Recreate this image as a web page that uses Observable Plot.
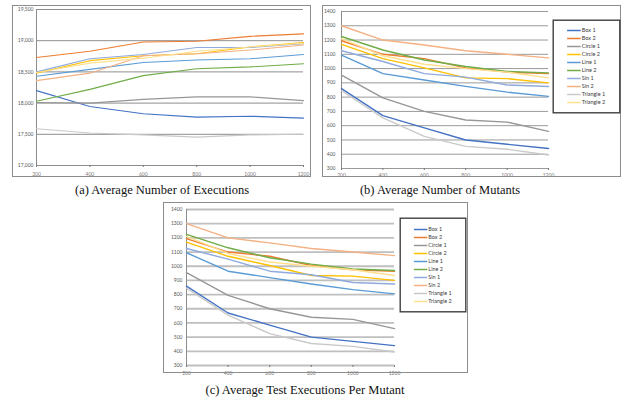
<!DOCTYPE html>
<html><head><meta charset="utf-8">
<script src="https://cdn.jsdelivr.net/npm/d3@7"></script>
<script src="https://cdn.jsdelivr.net/npm/@observablehq/plot@0.6"></script>
<style>
html,body{margin:0;padding:0;background:#fff}
body{width:624px;height:404px;position:relative;overflow:hidden}
.frame{position:absolute;border:1px solid #8c8c8c;box-sizing:border-box;pointer-events:none}
.cap{position:absolute;font-family:"Liberation Serif","DejaVu Serif",serif;font-size:12.5px;line-height:14px;color:#111;white-space:nowrap;transform:translateX(-50%)}
</style></head><body>
<script>
const xValues = [200, 400, 600, 800, 1000, 1200];
const seriesNames = ["Box 1", "Box 2", "Circle 1", "Circle 2", "Line 1", "Line 2", "Sin 1", "Sin 2", "Triangle 1", "Triangle 2"];
const seriesColors = ["#4472C4", "#ED7D31", "#979797", "#FFC000", "#5B9BD5", "#70AD47", "#8FAADC", "#F4B183", "#C9C9C9", "#FFE08F"];

// (a) Average Number of Executions
const execBox1      = [18200, 17945, 17830, 17775, 17790, 17760];
const execBox2      = [18730, 18830, 18980, 18990, 19070, 19110];
const execCircle1   = [18010, 18000, 18060, 18100, 18100, 18040];
const execCircle2   = [18480, 18680, 18760, 18790, 18900, 18970];
const execLine1     = [18430, 18540, 18650, 18690, 18710, 18780];
const execLine2     = [18030, 18220, 18440, 18550, 18580, 18630];
const execSin1      = [18500, 18710, 18780, 18890, 18890, 18950];
const execSin2      = [18360, 18480, 18760, 18790, 18850, 18930];
const execTriangle1 = [17590, 17520, 17490, 17455, 17490, 17500];
const execTriangle2 = [18490, 18640, 18720, 18830, 18900, 18960];
const execTicks = [17000, 17500, 18000, 18500, 19000, 19500];

// (b) Average Number of Mutants
const mutBox1      = [860, 670, 585, 500, 470, 440];
const mutBox2      = [1195, 1100, 1070, 1005, 975, 965];
const mutCircle1   = [955, 795, 700, 640, 625, 560];
const mutCircle2   = [1170, 1070, 1005, 935, 930, 900];
const mutLine1     = [1095, 965, 920, 875, 835, 805];
const mutLine2     = [1225, 1130, 1060, 1015, 980, 970];
const mutSin1      = [1125, 1050, 965, 940, 885, 875];
const mutSin2      = [1300, 1200, 1165, 1125, 1100, 1075];
const mutTriangle1 = [845, 655, 525, 455, 435, 395];
const mutTriangle2 = [1210, 1090, 1030, 1000, 975, 935];
const mutTicks = [300, 400, 500, 600, 700, 800, 900, 1000, 1100, 1200, 1300, 1400];

// (c) Average Test Executions Per Mutant
const perBox1      = [860, 670, 585, 500, 470, 440];
const perBox2      = [1195, 1100, 1070, 1005, 975, 965];
const perCircle1   = [955, 795, 700, 640, 625, 560];
const perCircle2   = [1170, 1070, 1005, 935, 930, 900];
const perLine1     = [1095, 965, 920, 875, 835, 805];
const perLine2     = [1225, 1130, 1060, 1015, 980, 970];
const perSin1      = [1125, 1050, 965, 940, 885, 875];
const perSin2      = [1300, 1200, 1165, 1125, 1100, 1075];
const perTriangle1 = [845, 655, 525, 455, 435, 395];
const perTriangle2 = [1210, 1090, 1030, 1000, 975, 935];
const perTicks = [300, 400, 500, 600, 700, 800, 900, 1000, 1100, 1200, 1300, 1400];

const captions = ["(a) Average Number of Executions", "(b) Average Number of Mutants", "(c) Average Test Executions Per Mutant"];

function tidy(rows) {
  return rows.flatMap((vals, i) => vals.map((v, j) => ({series: seriesNames[i], x: xValues[j], y: v})));
}

const FONT = "Lato, 'Liberation Sans', sans-serif";

function lineChart(o) {
  const data = tidy(o.rows);
  return Plot.plot({
    width: o.w, height: o.h,
    marginLeft: o.ml, marginRight: o.mr, marginTop: o.mt, marginBottom: o.mb,
    style: {background: "transparent", fontFamily: FONT, overflow: "visible"},
    x: {domain: [200, 1200], axis: null, label: null},
    y: {domain: [o.ticks[0], o.ticks[o.ticks.length - 1]], axis: null, label: null},
    color: {domain: seriesNames, range: seriesColors},
    marks: [
      Plot.ruleY(o.ticks, {stroke: o.grid, strokeWidth: o.gridW}),
      Plot.ruleX([200], {stroke: "#8c8c8c", strokeWidth: 1}),
      Plot.axisY({ticks: o.ticks, tickSize: 0, tickPadding: o.ypad, tickFormat: o.fmt, fontSize: 5, color: "#595959", label: null}),
      Plot.axisX({ticks: xValues, tickSize: 2, tickPadding: o.xpad, tickFormat: d => String(d), fontSize: 5, color: "#7a7a7a", label: null}),
      Plot.line(data, {x: "x", y: "y", z: "series", stroke: "series", strokeWidth: o.lw})
    ]
  });
}

function legendChart(w, h) {
  return Plot.plot({
    width: w, height: h, margin: 0,
    style: {background: "#fff", fontFamily: FONT, overflow: "visible"},
    x: {domain: [0, 1], axis: null},
    y: {type: "point", domain: seriesNames, range: [4.5, h - 4.5], axis: null},
    color: {domain: seriesNames, range: seriesColors},
    marks: [
      Plot.frame({stroke: "#404040", strokeWidth: 1.4, inset: 0.7}),
      Plot.link(seriesNames, {x1: 0.215, x2: 0.415, y1: d => d, y2: d => d, stroke: d => d, strokeWidth: 1.5}),
      Plot.text(seriesNames, {x: 0.43, y: d => d, text: d => d, textAnchor: "start", fontSize: 5.5, fill: "#404040"})
    ]
  });
}

function place(el, left, top) {
  el.style.position = "absolute";
  el.style.left = left + "px";
  el.style.top = top + "px";
  document.body.appendChild(el);
}
function frameBox(left, top, w, h) {
  const d = document.createElement("div");
  d.className = "frame";
  Object.assign(d.style, {left: left + "px", top: top + "px", width: w + "px", height: h + "px"});
  document.body.appendChild(d);
}
function caption(text, cx, top) {
  const d = document.createElement("div");
  d.className = "cap";
  d.textContent = text;
  Object.assign(d.style, {left: cx + "px", top: top + "px"});
  document.body.appendChild(d);
}

// (a)
place(lineChart({
  rows: [execBox1, execBox2, execCircle1, execCircle2, execLine1, execLine2, execSin1, execSin2, execTriangle1, execTriangle2],
  ticks: execTicks, fmt: d3.format(","),
  w: 299, h: 172, ml: 24, mr: 8, mt: 4, mb: 12,
  grid: "#8e8e8e", gridW: 1, ypad: 3, xpad: 5, lw: 1.1
}), 12, 5);
frameBox(12, 5, 299, 172);

// (b)
place(lineChart({
  rows: [mutBox1, mutBox2, mutCircle1, mutCircle2, mutLine1, mutLine2, mutSin1, mutSin2, mutTriangle1, mutTriangle2],
  ticks: mutTicks, fmt: d => String(d),
  w: 299, h: 172, ml: 19, mr: 73, mt: 6, mb: 9,
  grid: "#9a9a9a", gridW: 1, ypad: 6, xpad: 3, lw: 1.4
}), 322, 5);
frameBox(322, 5, 299, 172);
place(legendChart(68, 94), 552, 19);

// (c)
place(lineChart({
  rows: [perBox1, perBox2, perCircle1, perCircle2, perLine1, perLine2, perSin1, perSin2, perTriangle1, perTriangle2],
  ticks: perTicks, fmt: d => String(d),
  w: 305, h: 171, ml: 23, mr: 74, mt: 7, mb: 8,
  grid: "#bfbfbf", gridW: 1.8, ypad: 4, xpad: 4, lw: 1.4
}), 163, 202);
frameBox(163, 202, 305, 171);
place(legendChart(67, 95), 399, 217);

caption(captions[0], 162, 183);
caption(captions[1], 440, 183);
caption(captions[2], 305, 383);
</script>
</body></html>
